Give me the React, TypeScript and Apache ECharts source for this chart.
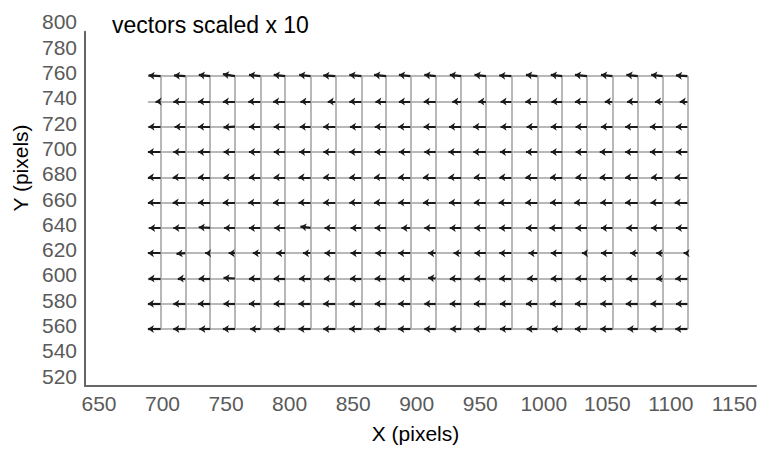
import React, { useEffect, useRef } from "react";
import * as echarts from "echarts";

// grid column positions (x, pixels) and rows (y, pixels)
const X_COLS = [698.5, 718, 737.5, 757, 777, 796.5, 816.5, 836, 856.5, 876, 895, 915, 935, 954.5, 974.5, 995, 1014.5, 1034, 1054, 1074, 1093.5, 1113];
const Y_ROWS = [760, 740, 720, 700, 680, 660, 640, 620, 600, 580, 560];

const X_TICKS = [650, 700, 750, 800, 850, 900, 950, 1000, 1050, 1100, 1150];
const Y_TICKS = [520, 540, 560, 580, 600, 620, 640, 660, 680, 700, 720, 740, 760, 780];

const VECTOR_SCALE = 10;

// x displacement (pixels) per row, one value per column
const u760 = [-0.95, -0.9, -0.9, -0.95, -0.9, -0.9, -0.9, -0.95, -0.95, -0.95, -0.9, -0.9, -0.9, -0.9, -0.95, -0.9, -0.9, -0.95, -0.9, -0.9, -0.9, -0.9];
const u740 = [-0.4, -0.95, -0.95, -0.95, -0.95, -0.95, -0.8, -0.6, -0.95, -0.85, -0.9, -0.95, -0.7, -0.6, -0.85, -0.95, -0.85, -0.95, -0.6, -0.85, -0.6, -0.6];
const u720 = [-0.95, -0.85, -0.95, -0.9, -0.9, -0.9, -0.85, -0.95, -0.9, -0.9, -0.95, -0.95, -0.95, -1.0, -0.85, -0.85, -0.9, -0.9, -0.9, -1.0, -1.0, -0.9];
const u700 = [-1.0, -0.95, -0.95, -0.9, -0.9, -0.9, -0.9, -0.95, -0.95, -0.9, -0.9, -0.9, -1.0, -1.0, -0.9, -0.9, -0.9, -0.9, -1.0, -1.0, -1.0, -0.9];
const u680 = [-1.0, -1.0, -0.95, -0.9, -0.9, -0.9, -0.95, -0.95, -0.95, -0.95, -0.95, -1.0, -1.0, -0.95, -0.95, -0.95, -0.95, -0.9, -1.0, -1.0, -0.9, -1.0];
const u660 = [-1.0, -1.0, -0.95, -0.95, -0.95, -0.95, -0.95, -0.95, -0.95, -0.95, -0.95, -1.0, -0.95, -0.95, -1.0, -0.95, -0.95, -1.0, -0.95, -1.0, -0.95, -1.0];
const u640 = [-0.9, -0.95, -0.9, -0.85, -0.9, -0.85, -0.8, -0.85, -0.85, -0.9, -0.7, -0.9, -0.9, -0.9, -0.95, -0.9, -1.0, -0.9, -0.9, -0.9, -0.9, -0.9];
const u620 = [-1.0, -0.7, -0.4, -0.5, -0.6, -0.7, -0.6, -0.85, -0.85, -0.85, -0.95, -0.6, -0.6, -0.9, -0.95, -0.7, -0.9, -0.4, -0.9, -0.6, -0.5, -0.3];
const u600 = [-0.95, -0.6, -0.9, -0.9, -0.9, -0.9, -0.9, -0.9, -0.9, -0.9, -0.9, -0.6, -0.9, -0.9, -0.95, -0.8, -0.9, -0.9, -0.95, -0.9, -0.5, -0.95];
const u580 = [-1.0, -0.95, -0.95, -0.9, -0.9, -0.9, -0.95, -0.95, -0.95, -0.9, -0.95, -0.9, -0.9, -0.95, -0.9, -0.9, -0.95, -0.95, -0.95, -0.95, -0.95, -0.9];
const u560 = [-1.0, -0.95, -0.85, -0.95, -0.8, -0.9, -0.95, -0.95, -0.95, -0.95, -0.95, -0.9, -0.85, -0.95, -0.9, -0.85, -0.8, -0.95, -0.95, -0.8, -0.95, -0.95];

// y displacement (pixels) per row
const v760 = [0.05, 0.05, 0.1, 0.15, 0.1, 0.1, 0.1, 0.05, 0.1, 0.1, 0.1, 0.1, 0.1, 0.1, 0.05, 0.1, 0.1, 0.1, 0.1, 0.1, 0.1, 0.05];
const v740 = [0, 0, 0, 0, 0, 0, 0, 0, 0, 0, 0, 0, 0, 0, 0, 0, 0, 0, 0, 0, 0, 0];
const v720 = [0, 0, 0, -0.05, 0, 0, 0, 0, 0, 0, 0, 0, 0, 0, 0, 0, 0, 0, 0, 0, 0, 0];
const v700 = [0, 0, 0, 0, 0, 0, 0, 0, 0, 0, 0, 0, 0, 0, 0, 0, 0, 0, 0, 0, 0, 0];
const v680 = [0, 0, 0, 0, 0, 0, 0, 0, 0, 0, 0, 0, 0, 0, 0, 0, 0, 0, 0, 0, 0, 0];
const v660 = [0, 0, 0, 0, 0, 0, 0, 0, 0, 0, 0, 0, 0, 0, 0, 0, 0, 0, 0, 0, 0, 0];
const v640 = [0, 0, 0.05, 0, 0, 0, 0.1, 0, 0, 0, 0, 0, 0, 0, 0, 0, 0, 0, 0, 0, 0, 0];
const v620 = [0, -0.05, 0, 0, 0, 0, 0, 0, 0, 0, 0, 0, 0, 0, 0, 0, 0, 0, 0, 0, 0, 0];
const v600 = [0, 0, 0, 0.05, 0, 0, 0, 0, 0, 0, 0, 0.05, 0, 0, 0, 0, 0, 0, 0, 0, 0, 0];
const v580 = [0, 0, 0, 0, 0, 0, 0, 0, 0, 0, 0, 0, 0, 0, 0, 0, 0, 0, 0, 0, 0, 0];
const v560 = [0, 0, 0, 0, 0, 0, 0, 0, 0, 0, 0, 0, 0, 0, 0, 0, 0, 0, 0, 0, 0, 0];

const U_ROWS = [u760, u740, u720, u700, u680, u660, u640, u620, u600, u580, u560];
const V_ROWS = [v760, v740, v720, v700, v680, v660, v640, v620, v600, v580, v560];

const LABEL_FONT = "'Liberation Sans', Arial, sans-serif";
const TEXT_FONT = "'Liberation Sans', Arial, sans-serif";
const LABEL_SIZE = 21;
const LABEL_COLOR = "#5a5a5a";

export default function App() {
  const ref = useRef<HTMLDivElement>(null);

  useEffect(() => {
    if (!ref.current) return;
    const chart = echarts.init(ref.current, undefined, { renderer: "svg" });

    const xFirst = X_COLS[0];
    const xLast = X_COLS[X_COLS.length - 1];
    const yTop = Y_ROWS[0];
    const yBottom = Y_ROWS[Y_ROWS.length - 1];

    const meshLines: any[] = [];
    X_COLS.forEach((x) => meshLines.push({ coords: [[x, yBottom], [x, yTop]] }));
    Y_ROWS.forEach((y) => meshLines.push({ coords: [[xFirst - VECTOR_SCALE, y], [xLast, y]] }));

    const vectors: any[] = [];
    Y_ROWS.forEach((y, r) => {
      X_COLS.forEach((x, c) => {
        const u = U_ROWS[r][c];
        const v = V_ROWS[r][c];
        vectors.push({ coords: [[x, y], [x + u * VECTOR_SCALE, y + v * VECTOR_SCALE]] });
      });
    });

    chart.setOption({
      animation: false,
      backgroundColor: "#ffffff",
      title: {
        text: "vectors scaled x 10",
        left: 107,
        top: 8,
        textStyle: { fontFamily: TEXT_FONT, fontSize: 23, fontWeight: "normal", color: "#000" },
      },
      grid: { left: 85, right: 0, top: 31.8, bottom: 65, containLabel: false },
      xAxis: {
        type: "value",
        min: 639,
        max: 1167,
        name: "X (pixels)",
        nameLocation: "middle",
        nameGap: 37,
        nameTextStyle: { fontFamily: TEXT_FONT, fontSize: 21, color: "#000", align: "center", padding: [0, 10, 0, 0] },
        axisLine: { show: true, lineStyle: { color: "#666", width: 2 } },
        axisTick: { show: false },
        splitLine: { show: false },
        axisLabel: {
          customValues: X_TICKS,
          margin: 7,
          fontFamily: LABEL_FONT,
          fontSize: LABEL_SIZE,
          color: LABEL_COLOR,
          formatter: (v: number) => String(v),
        },
      },
      yAxis: {
        type: "value",
        min: 515,
        max: 795,
        axisLine: { show: true, lineStyle: { color: "#666", width: 2 } },
        axisTick: { show: false },
        splitLine: { show: false },
        axisLabel: {
          customValues: Y_TICKS,
          margin: 8,
          formatter: (v: number) => "{a|" + v + "}",
          rich: {
            a: {
              fontFamily: LABEL_FONT,
              fontSize: LABEL_SIZE,
              color: LABEL_COLOR,
              padding: [0, 0, 7, 0],
            },
          },
        },
      },
      graphic: [
        {
          type: "text",
          x: 77,
          y: 21,
          style: {
            text: "800",
            textAlign: "right",
            textVerticalAlign: "middle",
            fontFamily: LABEL_FONT,
            fontSize: LABEL_SIZE,
            fill: LABEL_COLOR,
          },
        },
        {
          type: "text",
          x: 20,
          y: 168,
          rotation: Math.PI / 2,
          style: {
            text: "Y (pixels)",
            textAlign: "center",
            textVerticalAlign: "middle",
            fontFamily: TEXT_FONT,
            fontSize: 21,
            fill: "#000",
          },
        },
      ],
      series: [
        {
          type: "lines",
          coordinateSystem: "cartesian2d",
          silent: true,
          symbol: ["none", "none"],
          lineStyle: { color: "#b8b8b8", width: 2, opacity: 1 },
          data: meshLines,
          z: 1,
        },
        {
          type: "lines",
          coordinateSystem: "cartesian2d",
          silent: true,
          symbol: ["none", "arrow"],
          symbolSize: 6,
          lineStyle: { color: "#1a1a1a", width: 2.2, opacity: 1 },
          data: vectors,
          z: 2,
        },
      ],
    });

    return () => chart.dispose();
  }, []);

  return (
    <div
      ref={ref}
      style={{ position: "fixed", left: 0, top: 0, width: 760, height: 451, background: "#fff" }}
    />
  );
}
